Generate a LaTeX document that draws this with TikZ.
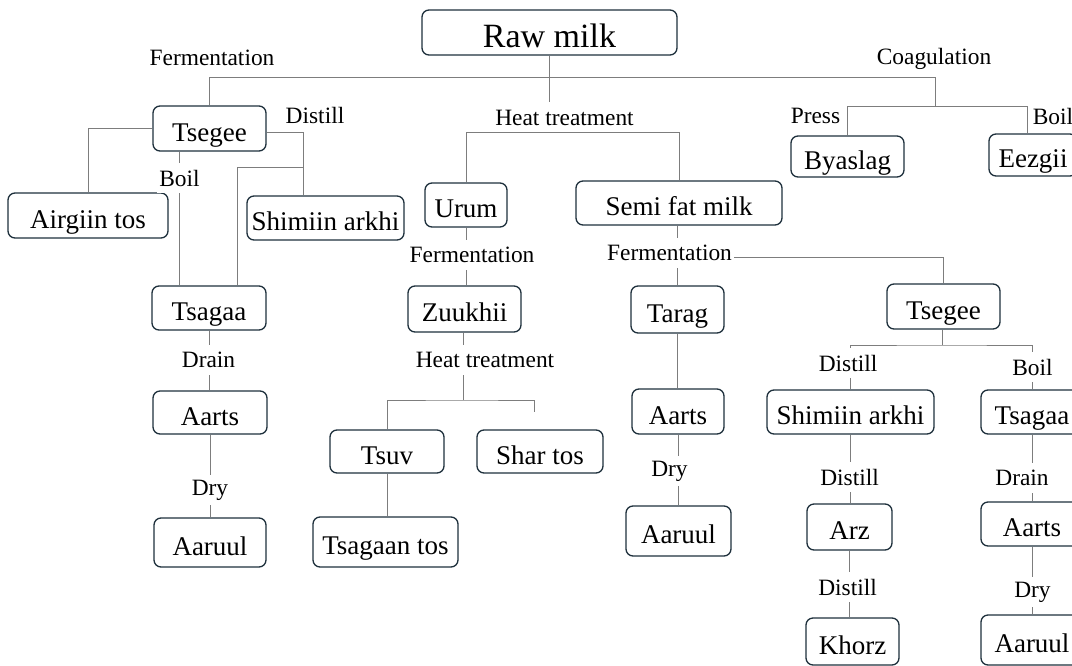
\documentclass[tikz,border=0pt]{standalone}
\usepackage{fontspec}
\setmainfont{Liberation Serif}
\pgfdeclarelayer{background}
\pgfsetlayers{background,main}
\definecolor{boxline}{RGB}{30,48,60}
\definecolor{linkgray}{RGB}{125,125,125}
\tikzset{
  box/.style={draw=boxline, line width=0.65pt, rounded corners=3.5pt, fill=white,
    inner sep=2pt, text height=12.5pt, text depth=0pt, font=\fontsize{13.5}{16}\selectfont},
  tag/.style={inner sep=1pt, minimum height=15pt, font=\fontsize{11.7}{14}\selectfont},
  cuttag/.style={tag, fill=white},
  link/.style={draw=linkgray, line width=0.5pt},
}
\begin{document}
\begin{tikzpicture}[x=0.5pt, y=-0.5pt]
  \useasboundingbox (0,0) rectangle (1072,665);
  \clip (0,0) rectangle (1072,665);

  % Boxes of the top rows
  \node[box, minimum width=127.5pt, minimum height=22.5pt, text height=14.5pt, font=\fontsize{17}{20}\selectfont] (rawmilk) at (549.5,32.5) {Raw milk};
  \node[box, minimum width=56.5pt, minimum height=22.5pt] (tsegeeA) at (209.5,128.5) {Tsegee};
  \node[box, minimum width=80pt, minimum height=22.5pt] (airgiin) at (88,215.5) {Airgiin tos};
  \node[box, minimum width=78.5pt, minimum height=22pt] (shimiinA) at (325.5,218) {Shimiin arkhi};
  \node[box, minimum width=41pt, minimum height=22pt] (urum) at (466,205) {Urum};
  \node[box, minimum width=103pt, minimum height=22pt] (semifat) at (679,203) {Semi fat milk};
  \node[box, minimum width=56.5pt, minimum height=20.5pt] (byaslag) at (847.5,156.5) {Byaslag};
  \node[box, minimum width=44pt, minimum height=21pt] (eezgii) at (1033,155) {Eezgii};

  % Boxes of the left and middle branches
  \node[box, minimum width=57pt, minimum height=22pt] (tsagaaA) at (209,308) {Tsagaa};
  \node[box, minimum width=57pt, minimum height=21.5pt] (aartsA) at (210,412.5) {Aarts};
  \node[box, minimum width=56pt, minimum height=24.5pt] (aaruulA) at (210,542.5) {Aaruul};
  \node[box, minimum width=56.5pt, minimum height=23pt] (zuukhii) at (464.5,309) {Zuukhii};
  \node[box, minimum width=57pt, minimum height=21.5pt] (tsuv) at (387,451.5) {Tsuv};
  \node[box, minimum width=63pt, minimum height=21.5pt] (shartos) at (540,451.5) {Shar tos};
  \node[box, minimum width=72.5pt, minimum height=25pt] (tsagaantos) at (385.5,542) {Tsagaan tos};
  \node[box, minimum width=46.5pt, minimum height=23.5pt] (tarag) at (677.5,309.5) {Tarag};
  \node[box, minimum width=46pt, minimum height=22.5pt] (aartsB) at (678,411.5) {Aarts};
  \node[box, minimum width=52.5pt, minimum height=25pt] (aaruulB) at (678.5,531) {Aaruul};

  % Boxes of the right branch
  \node[box, minimum width=56.5pt, minimum height=22.5pt] (tsegeeB) at (943.5,306.5) {Tsegee};
  \node[box, minimum width=83.5pt, minimum height=22pt] (shimiinB) at (850.5,412) {Shimiin arkhi};
  \node[box, minimum width=42.5pt, minimum height=23pt] (arz) at (849.5,527) {Arz};
  \node[box, minimum width=46.5pt, minimum height=23.5pt] (khorz) at (852.5,641.5) {Khorz};
  \node[box, minimum width=51pt, minimum height=22pt] (tsagaaB) at (1032,412) {Tsagaa};
  \node[box, minimum width=51pt, minimum height=22pt] (aartsB2) at (1032,524) {Aarts};
  \node[box, minimum width=51pt, minimum height=25pt] (aaruulB2) at (1032,640) {Aaruul};

  % Process labels
  \node[tag] (fermA) at (212,58) {Fermentation};
  \node[tag] (coag) at (934,59) {Coagulation};
  \node[tag] (heatA) at (564.5,117.5) {Heat treatment};
  \node[tag] (press) at (815.5,116) {Press};
  \node[tag] (boilE) at (1053,116) {Boil};
  \node[tag] (distA) at (315,115) {Distill};
  \node[cuttag] (boilA) at (179.5,178) {Boil};
  \node[cuttag] (fermB) at (472,255) {Fermentation};
  \node[cuttag] (heatB) at (485,360) {Heat treatment};
  \node[cuttag] (drainA) at (208.5,360) {Drain};
  \node[cuttag] (dryA) at (210,490) {Dry};
  \node[cuttag] (fermC) at (669.5,253) {Fermentation};
  \node[cuttag] (dryB) at (669.5,471) {Dry};
  \node[cuttag] (distB) at (848,363) {Distill};
  \node[cuttag] (boilB) at (1032.5,367) {Boil};
  \node[cuttag] (distC) at (849.5,477) {Distill};
  \node[cuttag] (distD) at (847.5,587) {Distill};
  \node[cuttag] (drainB) at (1022,478) {Drain};
  \node[cuttag] (dryC) at (1032.5,592) {Dry};

  % Junctions
  \coordinate (busR) at (935,77);
  \coordinate (pressbar) at (935,106);
  \coordinate (pressbarR) at (1027,106);
  \coordinate (distjoin) at (303,167);
  \coordinate (tsagaajoin) at (237,167);
  \coordinate (heatjoin) at (463,400);
  \coordinate (shartosend) at (534,412);
  \coordinate (tsegeejoin) at (942,345);

  \begin{pgfonlayer}{background}
    % Drawing lines from Raw milk
    \draw[link] (rawmilk.south) -- (rawmilk.south |- heatA.north);
    \draw[link] (tsegeeA.north) |- (busR) -- (pressbar);
    \draw[link] (byaslag.north) |- (pressbarR) -- (pressbarR |- eezgii.north);
    \draw[link] (urum.north) |- (heatA.south) -| (semifat.north);

    % Drawing lines from Tsegee (left)
    \draw[link] (tsegeeA.west) -| (airgiin.north);
    \draw[link] ([yshift=-2pt]tsegeeA.east) -| (shimiinA.north -| distjoin);
    \draw[link] (distjoin) -- (tsagaajoin) -- (tsagaaA.north -| tsagaajoin);
    \draw[link] (tsegeeA.south -| boilA) -- (tsagaaA.north -| boilA);
    \draw[link] (tsagaaA.south) -- (tsagaaA.south |- aartsA.north);
    \draw[link] (aartsA.south) -- (aaruulA.north);

    % Drawing lines from Urum
    \draw[link] (urum.south) -- (urum.south |- zuukhii.north);
    \draw[link] (zuukhii.south -| heatjoin) -- (heatjoin);
    \draw[link] (tsuv.north) |- (heatjoin) -| (shartosend);
    \draw[link] (tsuv.south) -- (tsuv.south |- tsagaantos.north);

    % Drawing lines from Semi fat milk
    \draw[link] (semifat.south -| tarag.north) -- (tarag.north);
    \draw[link] ([yshift=-2pt]fermC.east) -| (tsegeeB.north);
    \draw[link] (tarag.south) -- (tarag.south |- aartsB.north);
    \draw[link] (aartsB.south) -- (aartsB.south |- aaruulB.north);

    % Drawing lines from Tsegee (right)
    \draw[link] (tsegeeB.south -| tsegeejoin) -- (tsegeejoin);
    \draw[link] (shimiinB.north) |- (tsegeejoin) -| (tsagaaB.north);
    \draw[link] (shimiinB.south) -- (shimiinB.south |- arz.north);
    \draw[link] (arz.south) -- (arz.south |- khorz.north);
    \draw[link] (tsagaaB.south) -- (aartsB2.north);
    \draw[link] (aartsB2.south) -- (aaruulB2.north);
  \end{pgfonlayer}
\end{tikzpicture}
\end{document}
